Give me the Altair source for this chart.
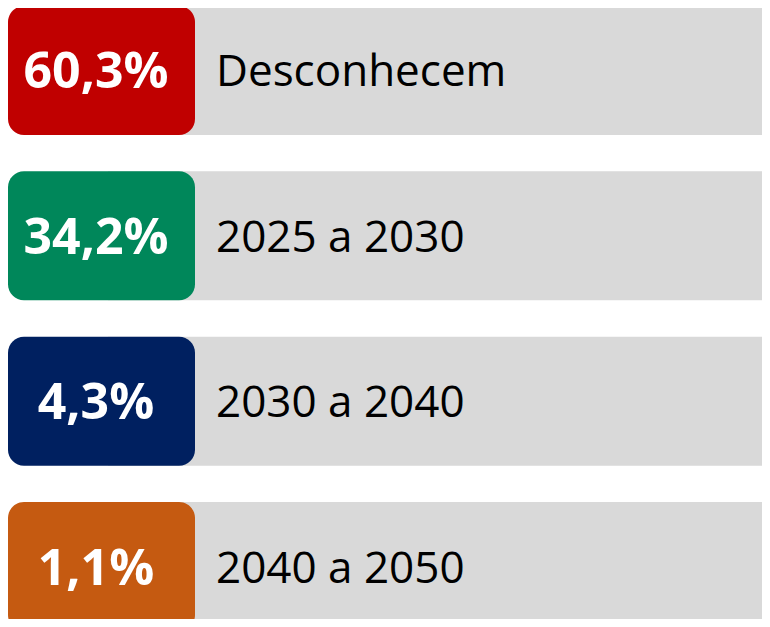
import altair as alt
import pandas as pd

categories = ["Desconhecem", "2025 a 2030", "2030 a 2040", "2040 a 2050"]
percents = ["60,3%", "34,2%", "4,3%", "1,1%"]
colors = ["#c00000", "#00875a", "#002060", "#c55a11"]

df = pd.DataFrame({"cat": categories, "pct": percents})

y = alt.Y("cat:N", sort=categories, axis=None,
          scale=alt.Scale(paddingInner=0.22, paddingOuter=0, range=[-2, 623]))

base = alt.Chart(df)

grey = base.mark_bar(color="#d9d9d9").encode(
    y=y, x=alt.value(100), x2=alt.value(754))

box = base.mark_bar(cornerRadius=16).encode(
    y=y, x=alt.value(0), x2=alt.value(187),
    color=alt.Color("cat:N", scale=alt.Scale(domain=categories, range=colors), legend=None))

pct = base.mark_text(color="white", font="Open Sans", fontWeight="bold", fontSize=50,
                     align="center", baseline="middle", dy=3).encode(
    y=y, x=alt.value(88), text="pct:N")

lab = base.mark_text(color="black", font="Open Sans", fontSize=44,
                     align="left", baseline="middle", dy=3).encode(
    y=y, x=alt.value(208), text="cat:N")

chart = (grey + box + pct + lab).properties(
    width=754, height=611, padding=0, autosize=alt.AutoSizeParams(type="none")
).configure_view(stroke=None)

chart.save("out.html", embed_options={"renderer": "svg", "actions": False})
